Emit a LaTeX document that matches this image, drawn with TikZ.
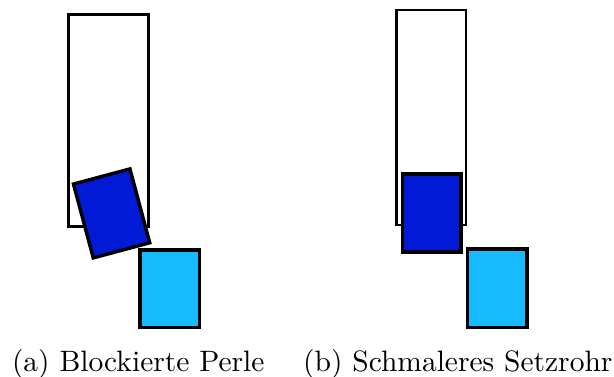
\documentclass[tikz,border=0pt]{standalone}
\newlength{\pxu}
\setlength{\pxu}{0.339pt}
\definecolor{beadDark}{RGB}{0,26,214}
\definecolor{beadLight}{RGB}{22,186,255}
\begin{document}
\begin{tikzpicture}[x=0.339pt,y=-0.339pt,
  tube/.style={draw=black,line width=0.7pt,inner sep=0,outer sep=0},
  bead/.style={draw=black,line width=1.15pt,inner sep=0,outer sep=0},
  dark/.style={bead,fill=beadDark},
  light/.style={bead,fill=beadLight},
  caption/.style={inner sep=0,outer sep=0,font=\normalsize}]
\useasboundingbox (0,0) rectangle (614,376);
% (a)
\node[tube,minimum width=80*\pxu,minimum height=212*\pxu] (tubeA) at (108.5,120.5) {};
\node[light,minimum width=59.3*\pxu,minimum height=77.3*\pxu] (lightA) at (169.65,288.65) {};
\node[dark,rotate=15,minimum width=58.5*\pxu,minimum height=76.5*\pxu] (darkA) at (111.6,213.4) {};
% (b)
\node[tube,minimum width=69.8*\pxu,minimum height=215*\pxu] (tubeB) at (431.4,117.5) {};
\node[dark,minimum width=58.5*\pxu,minimum height=78*\pxu] (darkB) at (431.75,213) {};
\node[light,minimum width=59.5*\pxu,minimum height=78.3*\pxu] (lightB) at (497.25,288.15) {};
% captions
\node[caption,anchor=base west] (capA) at (12,371) {(a) Blockierte Perle};
\node[caption,anchor=base east] (capB) at (612.5,371) {(b) Schmaleres Setzrohr};
\end{tikzpicture}
\end{document}
